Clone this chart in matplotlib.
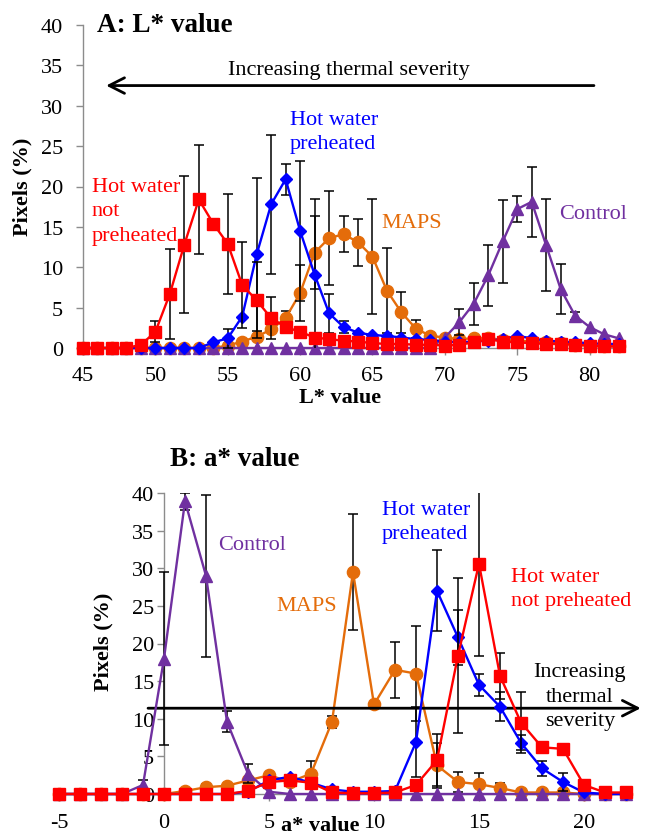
import matplotlib
matplotlib.use("Agg")
import matplotlib.pyplot as plt

plt.rcParams["font.family"] = ["Liberation Serif", "DejaVu Serif"]
plt.rcParams["axes.unicode_minus"] = False

# ---- panel A: L* value ----
l_values = list(range(45, 83))

l_not_preheated = [0, 0, 0, 0, 0.4, 2.0, 6.7, 12.8, 18.4, 15.4,
                   12.9, 7.8, 5.9, 3.7, 2.6, 2.0, 1.3, 1.1, 0.9, 0.8,
                   0.6, 0.5, 0.5, 0.4, 0.4, 0.3, 0.4, 0.7, 1.1, 0.8,
                   0.7, 0.6, 0.5, 0.5, 0.4, 0.3, 0.2, 0.2]
l_not_preheated_err = [0, 0, 0, 0, 0, 1.3, 5.6, 8.5, 6.7, 0,
                       6.2, 5.3, 4.7, 2.6, 0, 0, 0, 0, 0, 0,
                       0, 0, 0, 0, 0, 0, 0, 0, 0, 0,
                       0, 0, 0, 0, 0, 0, 0, 0]

l_preheated = [0, 0, 0, 0, 0, 0, 0, 0, 0, 0.7,
               1.2, 3.9, 11.6, 17.8, 20.9, 14.5, 9.1, 4.3, 2.6, 1.9,
               1.6, 1.5, 1.3, 1.1, 1.0, 0.8, 0.7, 0.8, 0.9, 1.1,
               1.5, 1.2, 0.9, 0.8, 0.7, 0.6, 0.5, 0.5]
l_preheated_err = [0, 0, 0, 0, 0, 0, 0, 0, 0, 0,
                   1.2, 0, 9.5, 8.6, 1.9, 8.7, 9.4, 2.4, 0.7, 0,
                   0, 0, 0, 0, 0, 0, 0, 0, 0, 0,
                   0, 0, 0, 0, 0, 0, 0, 0]

l_maps = [0, 0, 0, 0, 0, 0, 0, 0, 0, 0,
          0.3, 0.8, 1.4, 2.3, 3.7, 6.8, 11.8, 13.6, 14.1, 13.1,
          11.3, 7.1, 4.4, 2.4, 1.5, 1.3, 1.1, 1.2, 1.2, 1.0,
          0.9, 0.8, 0.8, 0.6, 0.4, 0.3, 0.2, 0.2]
l_maps_err = [0, 0, 0, 0, 0, 0, 0, 0, 0, 0,
              0, 0, 0, 0, 0.9, 3.5, 4.5, 5.8, 2.2, 2.9,
              7.1, 5.3, 2.5, 1.1, 0, 0, 0, 0, 0, 0,
              0, 0, 0, 0, 0, 0, 0, 0]

l_control = [0, 0, 0, 0, 0, 0, 0, 0, 0, 0,
             0, 0, 0, 0, 0, 0, 0, 0, 0, 0,
             0, 0, 0, 0, 0, 1.3, 3.2, 5.5, 9.0, 13.2,
             17.2, 18.1, 12.7, 7.3, 4.0, 2.6, 1.7, 1.2]
l_control_err = [0, 0, 0, 0, 0, 0, 0, 0, 0, 0,
                 0, 0, 0, 0, 0, 0, 0, 0, 0, 0,
                 0, 0, 0, 0, 0, 0, 1.6, 2.6, 3.8, 5.1,
                 1.6, 4.3, 5.7, 3.1, 0.5, 0, 0, 0]

# ---- panel B: a* value ----
a_values = list(range(-5, 23))

a_not_preheated = [0, 0, 0, 0, 0, 0, 0, 0, 0, 0.4,
                   1.6, 1.8, 1.5, 0.2, 0.1, 0.1, 0.2, 1.2, 4.5, 18.4,
                   30.6, 15.7, 9.5, 6.2, 6.0, 1.2, 0.2, 0.2]
a_not_preheated_err = [0, 0, 0, 0, 0, 0, 0, 0, 0, 0,
                       0, 0, 0, 0, 0, 0, 0, 0, 3.5, 10.3,
                       12.2, 3.1, 4.0, 0, 0, 0, 0, 0]

a_preheated = [0, 0, 0, 0, 0, 0, 0, 0, 0, 0.3,
               1.8, 2.3, 1.5, 0.6, 0.3, 0.3, 0.4, 6.9, 27.0, 20.8,
               14.5, 11.6, 6.8, 3.4, 1.6, 0.2, 0, 0]
a_preheated_err = [0, 0, 0, 0, 0, 0, 0, 0, 0, 0,
                   0, 0, 0, 0, 0, 0, 0, 4.6, 5.4, 3.6,
                   1.5, 1.9, 1.0, 1.0, 1.2, 0, 0, 0]

a_maps = [0, 0, 0, 0, 0, 0, 0.4, 0.9, 1.1, 1.8,
          2.5, 1.6, 2.7, 9.6, 29.5, 11.9, 16.5, 16.0, 3.8, 1.6,
          1.3, 0.8, 0.2, 0.2, 0.2, 0, 0, 0]
a_maps_err = [0, 0, 0, 0, 0, 0, 0, 0.4, 0, 0,
              0, 0, 1.7, 0.8, 7.7, 0, 3.7, 6.3, 3.0, 1.3,
              1.5, 0.7, 0, 0, 0, 0, 0, 0]

a_control = [0, 0, 0, 0, 1.2, 18.0, 38.9, 29.0, 9.6, 2.7,
             0.3, 0, 0, 0, 0, 0, 0, 0, 0, 0,
             0, 0, 0, 0, 0, 0, 0, 0]
a_control_err = [0, 0, 0, 0, 0.7, 11.5, 1.1, 10.8, 1.4, 1.3,
                 0, 0, 0, 0, 0, 0, 0, 0, 0, 0,
                 0, 0, 0, 0, 0, 0, 0, 0]

RED = "#ff0000"
BLUE = "#0000ff"
ORANGE = "#e46c0a"
PURPLE = "#7030a0"
GREY = "#8c8c8c"
FS = 16
TITLE_FS = 19.5
LS = 1.38


def draw_series(ax, x, y, err, color, marker, ms, z):
    xe = [xi for xi, e in zip(x, err) if e > 0]
    ye = [yi for yi, e in zip(y, err) if e > 0]
    ee = [e for e in err if e > 0]
    ax.errorbar(xe, ye, yerr=ee, fmt="none", ecolor="black",
                elinewidth=1.1, capsize=3.6, capthick=1.1, zorder=z)
    ax.plot(x, y, color=color, marker=marker, ms=ms, lw=1.7,
            zorder=z + 0.5, clip_on=False)


def style_axes(ax, ypad, xpad):
    for s in ("top", "right"):
        ax.spines[s].set_visible(False)
    for s in ("left", "bottom"):
        ax.spines[s].set_color(GREY)
        ax.spines[s].set_linewidth(1.0)
    ax.set_ylim(0, 40)
    ax.set_yticks(range(0, 41, 5))
    ax.tick_params(axis="y", direction="out", length=5, width=1,
                   color=GREY, labelsize=FS, pad=ypad)
    ax.tick_params(axis="x", direction="out", length=5, width=1,
                   color=GREY, labelsize=FS, pad=xpad)


fig = plt.figure(figsize=(6.45, 8.37), dpi=100)

# panel A
axA = fig.add_axes([83 / 645, 1 - 349 / 837, 537 / 645, 323 / 837])
draw_series(axA, l_values, l_maps, l_maps_err, ORANGE, "o", 8.8, 2)
draw_series(axA, l_values, l_control, l_control_err, PURPLE, "^", 8.8, 3)
draw_series(axA, l_values, l_preheated, l_preheated_err, BLUE, "D", 6.2, 4)
draw_series(axA, l_values, l_not_preheated, l_not_preheated_err, RED, "s", 9.0, 5)
axA.set_xlim(45, 82.1)
axA.set_xticks(range(45, 81, 5))
style_axes(axA, 9.5, 8)

axA.annotate("", xy=(46.6, 32.5), xytext=(80.3, 32.5),
             arrowprops=dict(arrowstyle="->,head_length=0.55,head_width=0.28",
                             lw=2, color="black", mutation_scale=20,
                             shrinkA=0, shrinkB=0))
axA.text(63.4, 34.5, "Increasing thermal severity", fontsize=FS,
         ha="center", va="center")
axA.text(59.3, 26.8, "Hot water\npreheated", color=BLUE, fontsize=FS,
         ha="left", va="center", linespacing=LS)
axA.text(45.6, 17.0, "Hot water\nnot\npreheated", color=RED, fontsize=FS,
         ha="left", va="center", linespacing=LS)
axA.text(65.6, 15.5, "MAPS", color=ORANGE, fontsize=FS, ha="left", va="center")
axA.text(77.9, 16.7, "Control", color=PURPLE, fontsize=FS, ha="left", va="center")

fig.text(97 / 645, 1 - 26 / 837, "A: L* value", fontsize=TITLE_FS,
         fontweight="bold", ha="left", va="center")
fig.text(22 / 645, 1 - 187 / 837, "Pixels (%)", fontsize=FS, fontweight="bold",
         rotation=90, ha="center", va="center")
fig.text(340 / 645, 1 - 398 / 837, "L* value", fontsize=FS, fontweight="bold",
         ha="center", va="center")

# panel B
axB = fig.add_axes([59 / 645, 1 - 795 / 837, 567 / 645, 301 / 837])
draw_series(axB, a_values, a_maps, a_maps_err, ORANGE, "o", 8.8, 2)
draw_series(axB, a_values, a_control, a_control_err, PURPLE, "^", 8.8, 3)
draw_series(axB, a_values, a_preheated, a_preheated_err, BLUE, "D", 6.2, 4)
draw_series(axB, a_values, a_not_preheated, a_not_preheated_err, RED, "s", 9.0, 5)
axB.set_xlim(-5, 22)
axB.set_xticks(range(-5, 21, 5))
axB.spines["left"].set_position(("data", 0))
style_axes(axB, 2, 9)

axB.annotate("", xy=(22.7, 11.4), xytext=(-0.76, 11.4),
             arrowprops=dict(arrowstyle="->,head_length=0.55,head_width=0.28",
                             lw=2, color="black", mutation_scale=20,
                             shrinkA=0, shrinkB=0), annotation_clip=False)
axB.text(19.8, 13.0, "Increasing\nthermal\nseverity", fontsize=FS,
         ha="center", va="center", linespacing=LS)
axB.text(2.57, 33.2, "Control", color=PURPLE, fontsize=FS, ha="left", va="center")
axB.text(5.33, 25.1, "MAPS", color=ORANGE, fontsize=FS, ha="left", va="center")
axB.text(10.38, 36.2, "Hot water\npreheated", color=BLUE, fontsize=FS,
         ha="left", va="center", linespacing=LS)
axB.text(16.52, 27.3, "Hot water\nnot preheated", color=RED, fontsize=FS,
         ha="left", va="center", linespacing=LS)

fig.text(170 / 645, 1 - 460 / 837, "B: a* value", fontsize=TITLE_FS,
         fontweight="bold", ha="left", va="center")
fig.text(103 / 645, 1 - 642 / 837, "Pixels (%)", fontsize=FS, fontweight="bold",
         rotation=90, ha="center", va="center")
fig.text(320 / 645, 1 - 826 / 837, "a* value", fontsize=FS, fontweight="bold",
         ha="center", va="center")

fig.savefig("out.png", dpi=100)
